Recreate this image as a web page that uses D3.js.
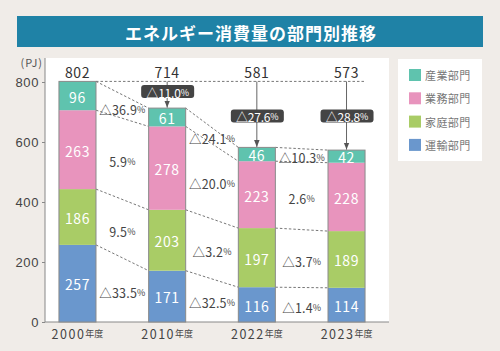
<!DOCTYPE html>
<html lang="ja">
<head>
<meta charset="UTF-8">
<title>エネルギー消費量の部門別推移</title>
<script src="https://cdn.jsdelivr.net/npm/d3@7"></script>
<style>
  body { margin: 0; background: #f0ece8; }
  svg { display: block; font-family: "Noto Sans CJK JP", "Noto Sans", sans-serif; }
</style>
</head>
<body>
<svg width="500" height="351"></svg>
<script>
// データ
var years = ["2000", "2010", "2022", "2023"];
var sectors = ["産業部門", "業務部門", "家庭部門", "運輸部門"];
var industry = [96, 61, 46, 42];
var commercial = [263, 278, 223, 228];
var household = [186, 203, 197, 189];
var transport = [257, 171, 116, 114];
var totals = [802, 714, 581, 573];
var yTicks = [0, 200, 400, 600, 800];
// 隣り合う年度の間の増減率（産業, 業務, 家庭, 運輸）
var gapChanges = [
  ["△36.9", "5.9", "9.5", "△33.5"],
  ["△24.1", "△20.0", "△3.2", "△32.5"],
  ["△10.3", "2.6", "△3.7", "△1.4"]
];
var totalChanges = ["△11.0", "△27.6", "△28.8"]; // 2000年度比

var colors = { "産業部門": "#5fc3ae", "業務部門": "#e894bd", "家庭部門": "#a9cc66", "運輸部門": "#6a97cd" };

var svg = d3.select("svg");

// 背景・タイトル
svg.append("rect").attr("width", 500).attr("height", 351).attr("fill", "#f0ece8");
svg.append("rect").attr("x", 17).attr("y", 16).attr("width", 466).attr("height", 31).attr("fill", "#1f82a6");
svg.append("text").attr("x", 251).attr("y", 32).attr("text-anchor", "middle").attr("dominant-baseline", "central")
  .attr("fill", "#fff").attr("font-size", 17).attr("font-weight", 700).attr("letter-spacing", 1)
  .text("エネルギー消費量の部門別推移");

// プロット領域
var pL = 45, pR = 389, pT = 58, pB = 322;
svg.append("rect").attr("x", pL).attr("y", pT).attr("width", pR - pL).attr("height", pB - pT).attr("fill", "#fff");

var x = d3.scaleBand().domain(years).range([45.5, 378.5]).paddingInner(0.587).paddingOuter(0.15);
var y = d3.scaleLinear().domain([0, 800]).range([pB, 82]);

// 積み上げ（下から運輸, 家庭, 業務, 産業）
var rows = years.map(function (yr, i) {
  return { year: yr, "産業部門": industry[i], "業務部門": commercial[i], "家庭部門": household[i], "運輸部門": transport[i] };
});
var stackOrder = ["運輸部門", "家庭部門", "業務部門", "産業部門"];
var series = d3.stack().keys(stackOrder)(rows);

// 軸
var yAxis = svg.append("g").attr("transform", "translate(" + pL + ",0)")
  .call(d3.axisLeft(y).tickValues(yTicks).tickSize(3).tickPadding(3));
yAxis.select(".domain").remove();
yAxis.selectAll("line").attr("stroke", "#888");
yAxis.selectAll("text").attr("font-size", 13).attr("fill", "#444").attr("letter-spacing", 0.6).attr("font-family", null);
svg.append("line").attr("x1", pL).attr("x2", pL).attr("y1", pT).attr("y2", pB).attr("stroke", "#888");
svg.append("line").attr("x1", pL).attr("x2", pR).attr("y1", pB).attr("y2", pB).attr("stroke", "#888");
svg.append("text").attr("x", 43).attr("y", 62).attr("text-anchor", "end").attr("dominant-baseline", "central")
  .attr("font-size", 11).attr("fill", "#555").attr("letter-spacing", 1).text("(PJ)");

// X軸ラベル
var xl = svg.append("g").selectAll("text").data(years).enter().append("text")
  .attr("x", function (d) { return x(d) + x.bandwidth() / 2; })
  .attr("y", 333).attr("text-anchor", "middle").attr("dominant-baseline", "central")
  .attr("fill", "#444").attr("font-size", 12.5).attr("letter-spacing", 1.5);
xl.append("tspan").text(function (d) { return d; });
xl.append("tspan").attr("font-size", 9).attr("letter-spacing", 0).text("年度");

// 区間の破線（セグメント上端どうしを結ぶ）
var conn = svg.append("g").attr("stroke", "#777").attr("stroke-dasharray", "2.5,2").attr("fill", "none");
series.forEach(function (s) {
  for (var i = 0; i < years.length - 1; i++) {
    conn.append("line")
      .attr("x1", x(years[i]) + x.bandwidth()).attr("y1", y(s[i][1]))
      .attr("x2", x(years[i + 1])).attr("y2", y(s[i + 1][1]));
  }
});
// 2000年度の水準線
conn.append("line").attr("x1", x(years[0]) + x.bandwidth()).attr("x2", x(years[3]) + x.bandwidth())
  .attr("y1", y(series[3][0][1])).attr("y2", y(series[3][0][1]));

// 棒
var layer = svg.append("g").selectAll("g").data(series).enter().append("g")
  .attr("fill", function (d) { return colors[d.key]; });
layer.selectAll("rect").data(function (d) { return d; }).enter().append("rect")
  .attr("x", function (d) { return x(d.data.year); })
  .attr("y", function (d) { return y(d[1]); })
  .attr("width", x.bandwidth())
  .attr("height", function (d) { return y(d[0]) - y(d[1]); });
svg.append("g").selectAll("rect").data(years).enter().append("rect")
  .attr("x", function (d) { return x(d); })
  .attr("y", function (d, i) { return y(series[3][i][1]); })
  .attr("width", x.bandwidth())
  .attr("height", function (d, i) { return pB - y(series[3][i][1]); })
  .attr("fill", "none").attr("stroke", "#8a8a8a").attr("stroke-width", 1);

// セグメント値
layer.selectAll("text").data(function (d) { return d.map(function (v) { return { v: v, key: d.key }; }); }).enter().append("text")
  .attr("x", function (d) { return x(d.v.data.year) + x.bandwidth() / 2; })
  .attr("y", function (d) { return (y(d.v[0]) + y(d.v[1])) / 2 + 1; })
  .attr("text-anchor", "middle").attr("dominant-baseline", "central")
  .attr("fill", "#fff").attr("font-size", 14).attr("letter-spacing", 0.6)
  .text(function (d) { return d.v.data[d.key]; });

// 合計値
svg.append("g").selectAll("text").data(totals).enter().append("text")
  .attr("x", function (d, i) { return x(years[i]) + x.bandwidth() / 2; })
  .attr("y", 72).attr("text-anchor", "middle").attr("dominant-baseline", "central")
  .attr("fill", "#333").attr("font-size", 14).attr("letter-spacing", 0.6)
  .text(function (d) { return d; });

// 増減率ラベル
function pct(sel, t) {
  sel.append("tspan").text(t);
  sel.append("tspan").attr("font-size", 9).attr("letter-spacing", 0).text("%");
}
var keyOrder = ["産業部門", "業務部門", "家庭部門", "運輸部門"];
gapChanges.forEach(function (labels, i) {
  var cx = (x(years[i]) + x.bandwidth() + x(years[i + 1])) / 2;
  labels.forEach(function (t, k) {
    var s = series[stackOrder.indexOf(keyOrder[k])];
    var cy = (y(s[i][0]) + y(s[i][1]) + y(s[i + 1][0]) + y(s[i + 1][1])) / 4 + 2;
    var tx = svg.append("text").attr("x", cx).attr("y", cy).attr("text-anchor", "middle").attr("dominant-baseline", "central")
      .attr("fill", "#444").attr("font-size", 12.5).attr("letter-spacing", 0.2);
    pct(tx, t);
  });
});

// 2000年度比の矢印とラベル
var y0 = y(series[3][0][1]);
svg.append("defs").append("marker").attr("id", "arr").attr("viewBox", "0 0 10 10").attr("refX", 10).attr("refY", 5)
  .attr("markerWidth", 7).attr("markerHeight", 7).attr("orient", "auto")
  .append("path").attr("d", "M0,1L10,5L0,9Z").attr("fill", "#555");
totalChanges.forEach(function (t, j) {
  var i = j + 1;
  var cx = x(years[i]) + x.bandwidth() / 2;
  var y1 = y(series[3][i][1]);
  svg.append("line").attr("x1", cx).attr("x2", cx).attr("y1", y0).attr("y2", y1 - 0.5)
    .attr("stroke", "#666").attr("stroke-width", 1).attr("marker-end", "url(#arr)");
  var by = (y1 - y0) < 40 ? y0 + 10 : y0 + 34.5;
  svg.append("rect").attr("x", cx - 26).attr("y", by - 6.5).attr("width", 53).attr("height", 13)
    .attr("rx", 3).attr("fill", "#444");
  var tx = svg.append("text").attr("x", cx + 0.5).attr("y", by + 0.5).attr("text-anchor", "middle").attr("dominant-baseline", "central")
    .attr("fill", "#fff").attr("font-size", 12).attr("letter-spacing", -0.2);
  pct(tx, t);
});

// 凡例
svg.append("rect").attr("x", 398).attr("y", 59).attr("width", 84).attr("height", 102).attr("fill", "#fff");
var lg = svg.append("g").selectAll("g").data(sectors).enter().append("g")
  .attr("transform", function (d, i) { return "translate(409," + (75 + i * 23.3) + ")"; });
lg.append("rect").attr("x", 0).attr("y", -6).attr("width", 12).attr("height", 12).attr("fill", function (d) { return colors[d]; });
lg.append("text").attr("x", 16).attr("y", 0).attr("dominant-baseline", "central")
  .attr("font-size", 11).attr("fill", "#777").attr("letter-spacing", 0.4).text(function (d) { return d; });
</script>
</body>
</html>
